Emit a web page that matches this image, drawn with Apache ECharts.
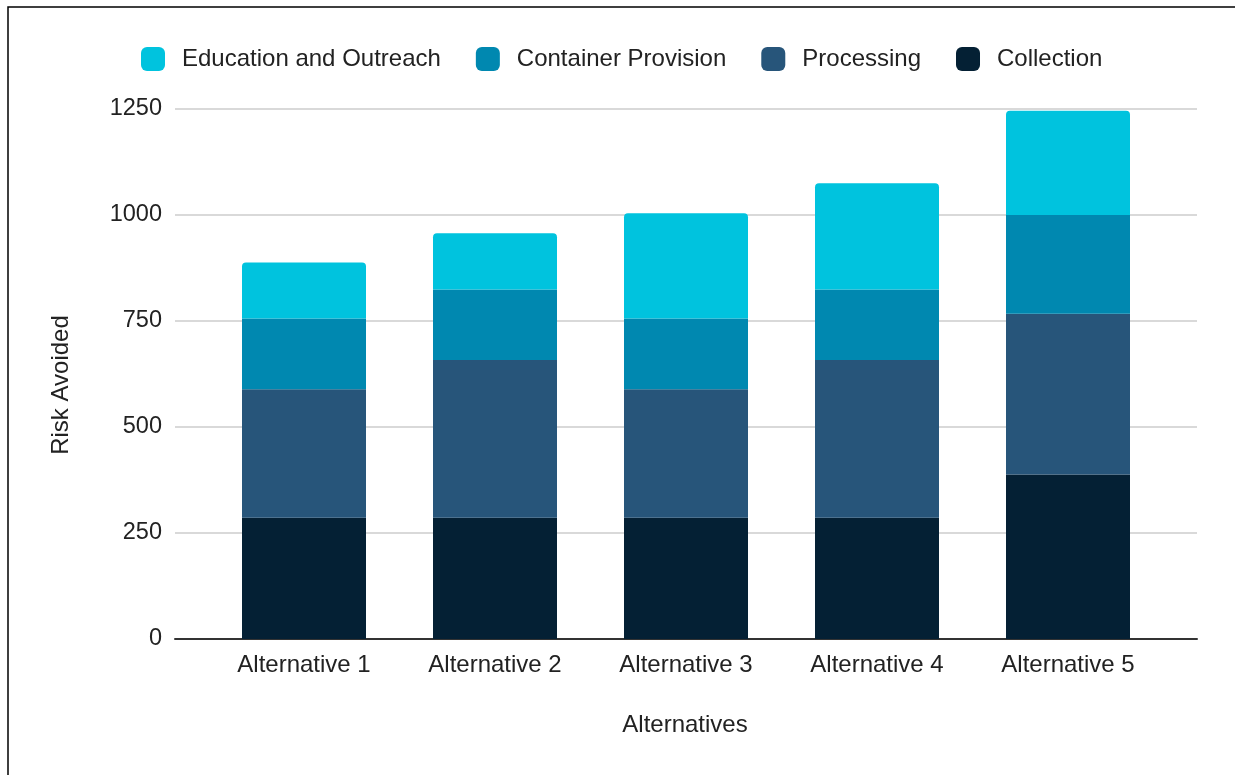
<!DOCTYPE html>
<html>
<head>
<meta charset="utf-8">
<script src="https://cdn.jsdelivr.net/npm/echarts@6/dist/echarts.min.js"></script>
<style>
html,body{margin:0;padding:0;background:#fff;}
#chart{width:1235px;height:775px;}
</style>
</head>
<body>
<div id="chart"></div>
<script>
const categories = ['Alternative 1','Alternative 2','Alternative 3','Alternative 4','Alternative 5'];
const collection = [286, 286, 286, 286, 388];
const processing = [303, 372, 303, 372, 379];
const containerProvision = [167, 166, 167, 166, 233];
const education = [132, 133, 248, 251, 246];
const yTicks = [0, 250, 500, 750, 1000, 1250];

const FONT = 'Arial, "Liberation Sans", sans-serif';
const TXT = '#222222';
const colors = {
  edu: '#00c3de',
  cont: '#0088b0',
  proc: '#27557a',
  coll: '#042034'
};

const chart = echarts.init(document.getElementById('chart'), null, {renderer: 'canvas'});

const option = {
  backgroundColor: '#ffffff',
  animation: false,
  textStyle: {fontFamily: FONT},
  legend: {
    left: 136,
    top: 42,
    itemWidth: 24,
    itemHeight: 24,
    itemGap: 35,
    icon: 'roundRect',
    textStyle: {fontSize: 24, color: TXT, fontFamily: FONT, padding: [0, 0, 0, 12]},
    data: ['Education and Outreach', 'Container Provision', 'Processing', 'Collection']
  },
  grid: [
    {left: 175, right: 38, top: 109, height: 530, containLabel: false},
    {left: 208.5, width: 955, top: 109, height: 530, containLabel: false}
  ],
  xAxis: [
    {
      gridIndex: 0, type: 'value', min: 0, max: 1,
      axisLabel: {show: false}, axisTick: {show: false}, splitLine: {show: false},
      axisLine: {show: true, lineStyle: {color: '#333333', width: 2}}
    },
    {
      gridIndex: 1, type: 'category', data: categories,
      axisLine: {show: false}, axisTick: {show: false},
      axisLabel: {fontSize: 24, color: TXT, fontFamily: FONT, margin: 14}
    }
  ],
  yAxis: [
    {
      gridIndex: 0, type: 'value', min: 0, max: 1250, interval: 250,
      axisLine: {show: false}, axisTick: {show: false},
      axisLabel: {fontSize: 23.5, color: TXT, fontFamily: FONT, margin: 13,
        formatter: v => yTicks.includes(v) ? String(v) : ''},
      splitLine: {show: true, lineStyle: {color: '#cccccc', width: 1.5}}
    },
    {
      gridIndex: 1, type: 'value', min: 0, max: 1250, interval: 250,
      axisLine: {show: false}, axisTick: {show: false},
      axisLabel: {show: false}, splitLine: {show: false}
    }
  ],
  series: [
    {name: 'Collection', type: 'bar', stack: 'total', xAxisIndex: 1, yAxisIndex: 1,
      barWidth: 124, data: collection, itemStyle: {color: colors.coll}},
    {name: 'Processing', type: 'bar', stack: 'total', xAxisIndex: 1, yAxisIndex: 1,
      barWidth: 124, data: processing, itemStyle: {color: colors.proc}},
    {name: 'Container Provision', type: 'bar', stack: 'total', xAxisIndex: 1, yAxisIndex: 1,
      barWidth: 124, data: containerProvision, itemStyle: {color: colors.cont}},
    {name: 'Education and Outreach', type: 'bar', stack: 'total', xAxisIndex: 1, yAxisIndex: 1,
      barWidth: 124, data: education, itemStyle: {color: colors.edu, borderRadius: [4, 4, 0, 0]}}
  ],
  graphic: [
    {type: 'rect', z: 100, silent: true,
      shape: {x: 8, y: 7, width: 1300, height: 800},
      style: {fill: 'none', stroke: '#000000', lineWidth: 1.5}},
    {type: 'text', x: 685, y: 725, z: 100,
      style: {text: 'Alternatives', fontSize: 24, fill: TXT, fontFamily: FONT,
        align: 'center', verticalAlign: 'middle'}},
    {type: 'text', x: 61, y: 385, rotation: Math.PI / 2, z: 100,
      style: {text: 'Risk Avoided', fontSize: 24, fill: TXT, fontFamily: FONT,
        align: 'center', verticalAlign: 'middle'}}
  ]
};
chart.setOption(option);
</script>
</body>
</html>
